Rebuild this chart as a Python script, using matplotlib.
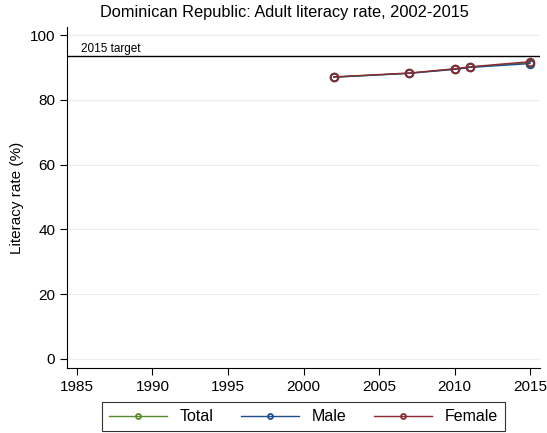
import matplotlib.pyplot as plt

plt.rcParams['font.family'] = ['Liberation Sans', 'DejaVu Sans']

years = [2002, 2007, 2010, 2011, 2015]
total = [87.0, 88.2, 89.5, 90.1, 91.5]
male = [87.0, 88.2, 89.4, 90.0, 91.2]
female = [87.1, 88.3, 89.6, 90.2, 91.8]
target = 93.5
xticks = [1985, 1990, 1995, 2000, 2005, 2010, 2015]
yticks = [0, 20, 40, 60, 80, 100]

fig = plt.figure(figsize=(5.47, 4.33), dpi=100)
ax = fig.add_axes([67 / 547, 1 - 368 / 433, (540 - 67) / 547, (368 - 27) / 433])

ax.plot(years, total, color='#5a8a2e', lw=1, marker='o', mfc='none', ms=5.5, mew=1.3, label='Total')
ax.plot(years, male, color='#1f4e8c', lw=1, marker='o', mfc='none', ms=5.5, mew=1.3, label='Male')
ax.plot(years, female, color='#8c2a2e', lw=1, marker='o', mfc='none', ms=5.5, mew=1.3, label='Female')

ax.axhline(target, color='black', lw=1)
ax.text(1985.3, target + 0.3, '2015 target', fontsize=8.5, va='bottom')

ax.set_xlim(1984.34, 2015.66)
ax.set_ylim(-2.8, 102.5)
ax.set_xticks(xticks)
ax.set_yticks(yticks)
ax.grid(axis='y', color='#ececec', lw=0.8)
ax.set_axisbelow(True)
for s in ['top', 'right']:
    ax.spines[s].set_visible(False)
ax.tick_params(labelsize=11, length=5, direction='out')
ax.set_ylabel('Literacy rate (%)', fontsize=11)
fig.text(284 / 547, 1 - 13 / 433, 'Dominican Republic: Adult literacy rate, 2002-2015',
         fontsize=11.8, ha='center', va='center')

leg = fig.legend(loc='upper center', bbox_to_anchor=(303.5 / 547, 1 - 402 / 433), ncol=3, fontsize=11.5,
                 frameon=True, fancybox=False, edgecolor='black', handlelength=3.6,
                 columnspacing=1.75, borderpad=0.45, handletextpad=0.8, markerscale=0.65,
                 borderaxespad=0)
leg.get_frame().set_linewidth(0.8)

fig.savefig('out.png', dpi=100)
